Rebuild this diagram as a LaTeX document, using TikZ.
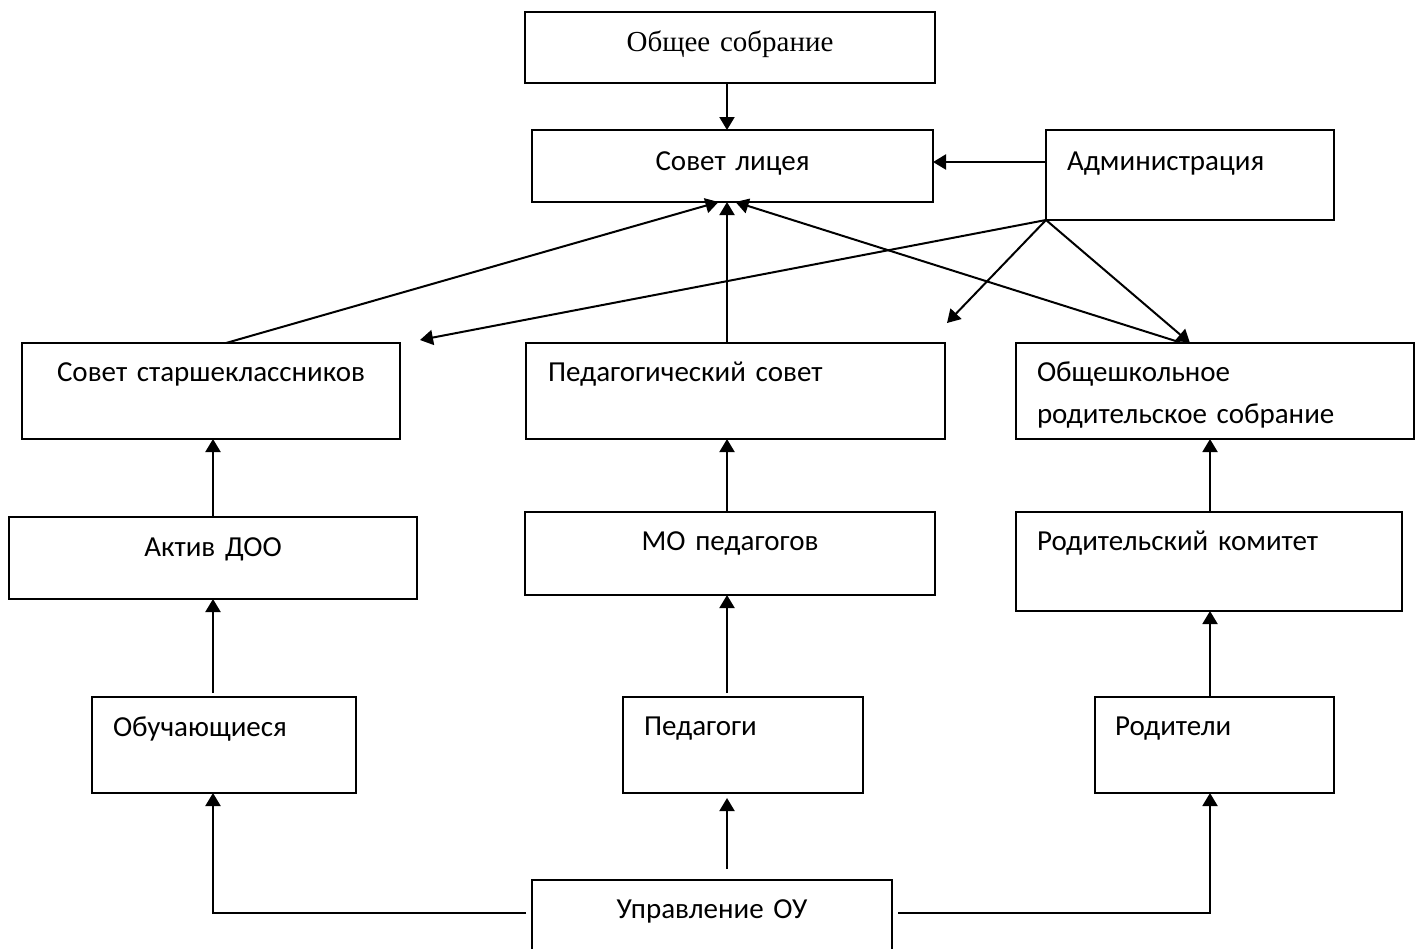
\documentclass[tikz,border=0pt]{standalone}
\usepackage{fontspec}
\setmainfont{Carlito}
\newfontfamily\serifrm{Liberation Serif}
\usepackage{tikz}
\usetikzlibrary{arrows.meta,calc}

\begin{document}
\begin{tikzpicture}[
    x=0.5pt, y=-0.5pt,
    orgbox/.style={draw=black, line width=1pt, anchor=north west, outer sep=0pt, inner ysep=0pt, font=\fontsize{14.5}{21}\selectfont},
    cbox/.style={orgbox, inner xsep=0pt, align=center},
    lbox/.style={orgbox, align=left},
    arrow/.style={-{Triangle[length=6.5pt,width=7.5pt]}, line width=1pt}
]
\useasboundingbox (0,0) rectangle (1416,948);
\clip (0,0) rectangle (1416,948);

% ============== COLUMNS ==============
\coordinate (leftcol) at (213,0);
\coordinate (midcol) at (727,0);
\coordinate (rightcol) at (1210,0);

% ============== ROW 1: OBSCHEE, SOVET, ADMIN ==============
\node[cbox, font=\serifrm\fontsize{14.5}{21}\selectfont, text width=205pt, text height=19.5pt, text depth=16pt] (obschee) at (525,12) {Общее собрание};

\node[cbox, text width=200.5pt, text height=20pt, text depth=16pt] (sovet) at (532,130) {Совет лицея};

\node[lbox, inner xsep=10.5pt, text width=123pt, text height=20pt, text depth=25pt] (admin) at (1046,130) {Администрация};

% ============== ROW 2: STARSH, PEDSOVET, OBSCH ==============
\node[cbox, text width=189pt, text height=19pt, text depth=29pt] (starsh) at (22,343) {Совет старшеклассников};

\node[lbox, inner xsep=11pt, text width=187.5pt, text height=19pt, text depth=29pt] (pedsovet) at (526,343) {Педагогический совет};

\node[lbox, inner xsep=10.5pt, text width=178pt, text height=19pt, text depth=29pt] (obsch) at (1016,343) {Общешкольное\\родительское собрание};

% ============== ROW 3: AKTIV, MO, RKOM ==============
\node[cbox, text width=204pt, text height=19.5pt, text depth=21.5pt] (aktiv) at (9,517) {Актив ДОО};

\node[cbox, text width=205pt, text height=19pt, text depth=22.5pt] (mo) at (525,512) {МО педагогов};

\node[lbox, inner xsep=10.5pt, text width=172pt, text height=19pt, text depth=30.5pt] (rkom) at (1016,512) {Родительский комитет};

% ============== ROW 4: OBUCH, PEDAGOGI, RODITELI ==============
\node[lbox, inner xsep=10.5pt, text width=111pt, text height=19.5pt, text depth=28.5pt] (obuch) at (92,697) {Обучающиеся};

\node[lbox, inner xsep=10.5pt, text width=99pt, text height=19pt, text depth=29pt] (pedagogi) at (623,697) {Педагоги};

\node[lbox, inner xsep=10pt, text width=99.5pt, text height=19pt, text depth=29pt] (roditeli) at (1095,697) {Родители};

% ============== ROW 5: UPR ==============
\node[cbox, text width=180pt, text height=19pt, text depth=41pt] (upr) at (532,880) {Управление ОУ};

% free ends of the admin arrows
\coordinate (tipA) at (420,340);
\coordinate (tipB) at (947,323);

% ============== RELATIONSHIPS ==============

% Obschee -> Sovet
\draw[arrow] (obschee.south -| midcol) -- (sovet.north -| midcol);

% Admin -> Sovet
\draw[arrow] ([yshift=6.5pt]admin.west) -- ([yshift=6.5pt]admin.west -| sovet.east);

% Starsh, Pedsovet, Obsch -> Sovet
\draw[arrow] ([xshift=7.5pt]starsh.north) -- ([xshift=-7pt]sovet.south);
\draw[arrow] (pedsovet.north -| midcol) -- (sovet.south -| midcol);
\draw[arrow] ([xshift=-16.5pt]obsch.north) -- ([xshift=1.5pt]sovet.south);

% Admin -> row 2
\draw[arrow] (admin.south west) -- (tipA);
\draw[arrow] (admin.south west) -- (tipB);
\draw[arrow] (admin.south west) -- ([xshift=-12.5pt]obsch.north);

% left column
\draw[arrow] (aktiv.north -| leftcol) -- (starsh.south -| leftcol);
\draw[arrow, shorten <=2pt] (obuch.north -| leftcol) -- (aktiv.south -| leftcol);

% middle column
\draw[arrow] (mo.north -| midcol) -- (pedsovet.south -| midcol);
\draw[arrow, shorten <=2pt] (pedagogi.north -| midcol) -- (mo.south -| midcol);

% right column
\draw[arrow] (rkom.north -| rightcol) -- (obsch.south -| rightcol);
\draw[arrow] (roditeli.north -| rightcol) -- (rkom.south -| rightcol);

% Upr -> row 4
\draw[arrow] ([shift={(-3pt,-16.5pt)}]upr.north west) -| (obuch.south -| leftcol);
\draw[arrow, shorten <=5.5pt, shorten >=2.5pt] (upr.north -| midcol) -- (pedagogi.south -| midcol);
\draw[arrow] ([shift={(3pt,-16.5pt)}]upr.north east) -| (roditeli.south -| rightcol);

\end{tikzpicture}
\end{document}
